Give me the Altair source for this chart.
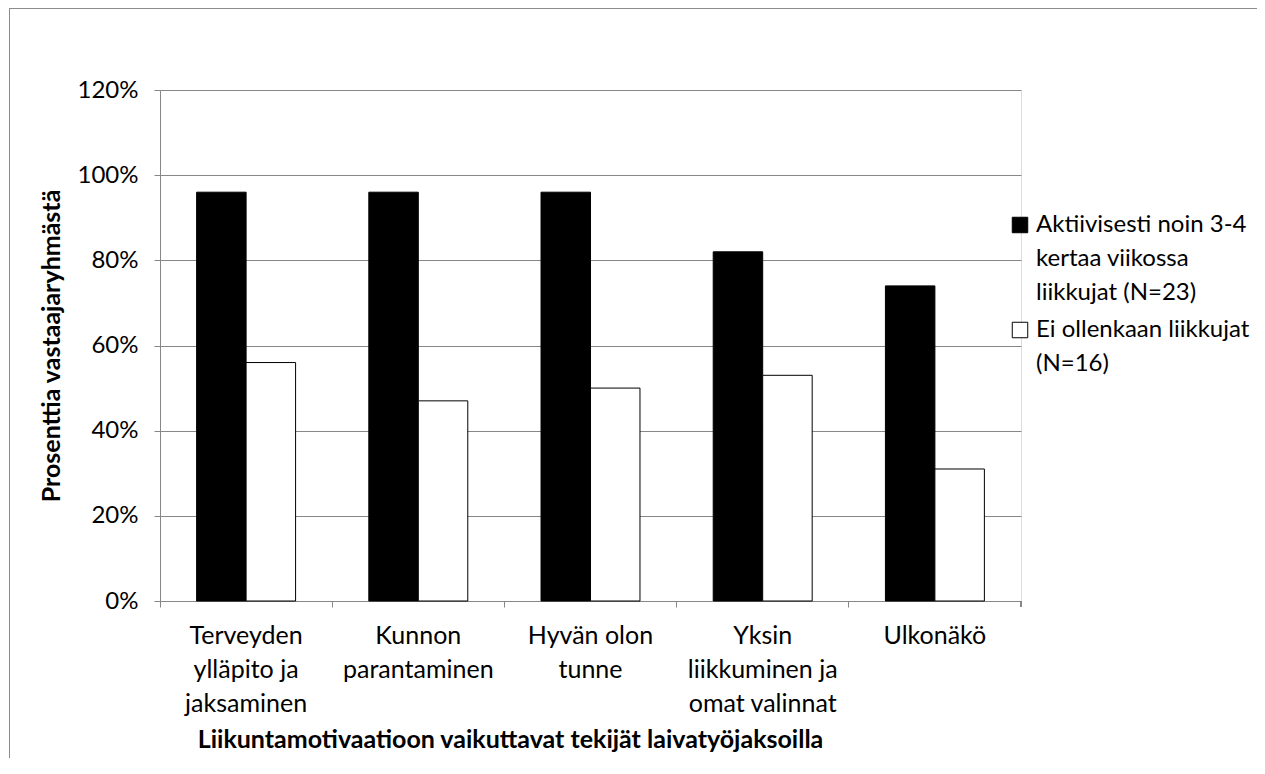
import altair as alt
import pandas as pd

categories = [
    "Terveyden|ylläpito ja|jaksaminen",
    "Kunnon|parantaminen",
    "Hyvän olon|tunne",
    "Yksin|liikkuminen ja|omat valinnat",
    "Ulkonäkö",
]
series = [
    "Aktiivisesti noin 3-4|kertaa viikossa|liikkujat (N=23)",
    "Ei ollenkaan liikkujat|(N=16)",
]
active_values = [0.96, 0.96, 0.96, 0.82, 0.74]
inactive_values = [0.56, 0.47, 0.50, 0.53, 0.31]
y_ticks = [0, 0.2, 0.4, 0.6, 0.8, 1.0, 1.2]

rows = []
for c, a, b in zip(categories, active_values, inactive_values):
    rows.append({"cat": c, "series": series[0], "value": a})
    rows.append({"cat": c, "series": series[1], "value": b})
df = pd.DataFrame(rows)

FONT = "Lato"
GRID = "#878787"
W, H = 861, 511

bars = alt.Chart(df).mark_bar(stroke="black", strokeWidth=1).encode(
    x=alt.X(
        "cat:N",
        sort=categories,
        scale=alt.Scale(paddingInner=0, paddingOuter=0),
        axis=alt.Axis(
            title="Liikuntamotivaatioon vaikuttavat tekijät laivatyöjaksoilla",
            titleFont=FONT, titleFontSize=25, titleFontWeight="bold",
            titleColor="black", titleX=350, titleY=146,
            titleBaseline="alphabetic", titleAlign="center",
            labelExpr="split(datum.label, '|')",
            labelAngle=0, labelFont=FONT, labelFontSize=25, labelColor="black",
            labelLineHeight=34, labelBaseline="top", labelPadding=16,
            bandPosition=0,
            domainColor=GRID, tickColor=GRID, tickSize=6,
            labelLimit=300,
        ),
    ),
    xOffset=alt.XOffset(
        "series:N", sort=series,
        scale=alt.Scale(paddingInner=0, paddingOuter=0.74),
    ),
    y=alt.Y(
        "value:Q",
        scale=alt.Scale(domain=[0, 1.2], nice=False),
        axis=alt.Axis(
            values=y_ticks, format=".0%",
            title="Prosenttia vastaajaryhmästä",
            titleFont=FONT, titleFontSize=25, titleFontWeight="bold",
            titleColor="black", titleAngle=270, titleX=-109, titleY=H / 2,
            titleBaseline="middle", titleAlign="center",
            labelFont=FONT, labelFontSize=24, labelColor="black",
            labelPadding=16, tickSize=6, tickColor=GRID,
            domainColor=GRID, gridColor=GRID,
        ),
    ),
    color=alt.Color(
        "series:N",
        sort=series,
        scale=alt.Scale(domain=series, range=["black", "white"]),
        legend=alt.Legend(
            title=None, orient="none", legendX=848, legendY=123,
            labelExpr="split(datum.label, '|')",
            labelFont=FONT, labelFontSize=24, labelColor="black",
            labelLimit=400, labelOffset=4,
            symbolType="square", symbolSize=240,
            symbolStrokeColor="black", symbolStrokeWidth=1,
            rowPadding=13, padding=0,
        ),
    ),
)

end_tick = alt.Chart(df).mark_rule(color=GRID).encode(
    x=alt.value(W), y=alt.value(H), y2=alt.value(H + 6)
)
border_top = alt.Chart(df).mark_rule(color="#8c8c8c").encode(
    x=alt.value(-151), x2=alt.value(1200), y=alt.value(-81.5)
)
border_left = alt.Chart(df).mark_rule(color="#8c8c8c").encode(
    x=alt.value(-150.5), y=alt.value(-82), y2=alt.value(700)
)

chart = alt.layer(bars, end_tick, border_top, border_left).properties(
    width=W, height=H,
    autosize=alt.AutoSizeParams(type="none"),
    padding={"left": 152, "top": 82, "right": 236, "bottom": 157},
).configure_view(stroke=None).configure(
    style={"guide-label": {"lineHeight": 34}}
)

chart.save("out.html", embed_options={"renderer": "svg", "actions": False})
